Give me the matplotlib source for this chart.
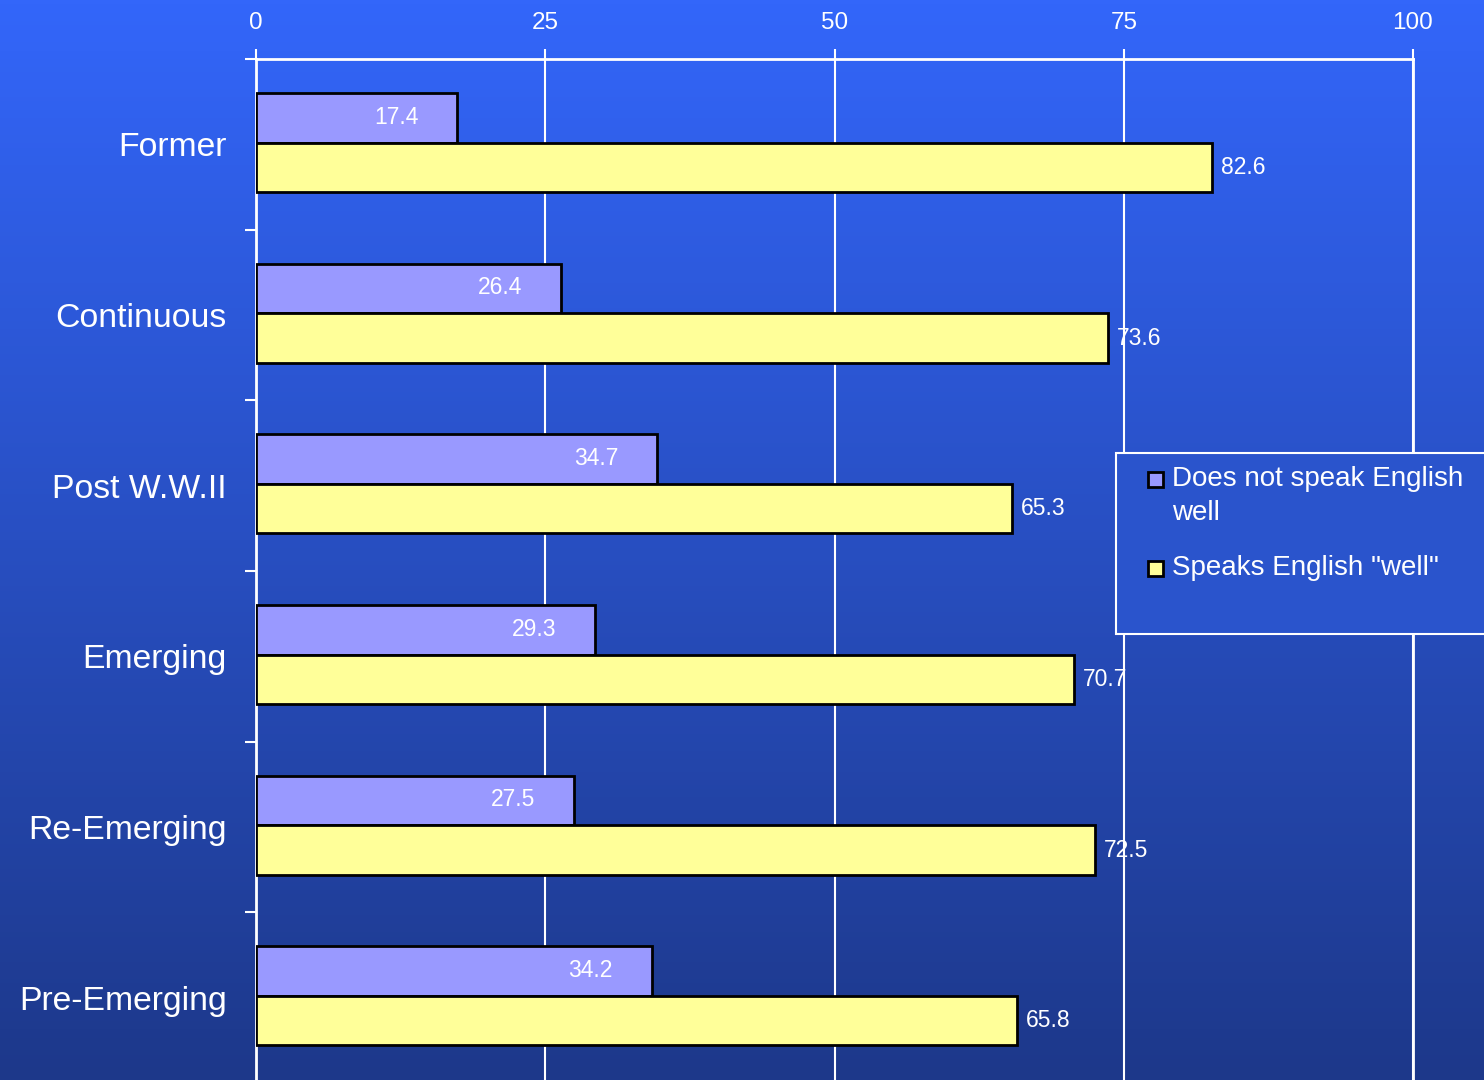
import numpy as np
import matplotlib
matplotlib.use('Agg')
import matplotlib.pyplot as plt
from matplotlib.patches import Rectangle

plt.rcParams['font.family'] = ['Liberation Sans', 'DejaVu Sans']

# data
categories = ['Former', 'Continuous', 'Post W.W.II', 'Emerging', 'Re-Emerging', 'Pre-Emerging']
not_well = [17.4, 26.4, 34.7, 29.3, 27.5, 34.2]
speaks_well = [82.6, 73.6, 65.3, 70.7, 72.5, 65.8]
xticks = [0, 25, 50, 75, 100]
series_names = ['Does not speak English\nwell', 'Speaks English "well"']

purple = '#9999FF'
yellow = '#FFFF99'


def px(x, y):
    # pixel (from top-left) -> figure fraction
    return x / 1484, 1 - y / 1080


def main():
    fig = plt.figure(figsize=(14.84, 10.8), dpi=100)

    # gradient background
    bg = fig.add_axes([0, 0, 1, 1], zorder=-10)
    top = np.array([51, 102, 250]) / 255.0
    bot = np.array([29, 56, 138]) / 255.0
    t = np.linspace(0, 1, 256)[:, None]
    grad = top * (1 - t) + bot * t
    bg.imshow(grad[:, None, :], aspect='auto', extent=[0, 1, 0, 1])
    bg.axis('off')

    ax = fig.add_axes([256 / 1484, -3 / 1080, 1157 / 1484, 1024 / 1080])
    ax.set_facecolor('none')
    y = np.arange(len(categories))
    h = 0.29
    ax.barh(y - h / 2 - 0.01, not_well, height=h, color=purple,
            edgecolor='black', linewidth=2, zorder=3)
    ax.barh(y + h / 2 - 0.01, speaks_well, height=h, color=yellow,
            edgecolor='black', linewidth=2, zorder=3)

    for i in range(len(categories)):
        ax.text(not_well[i] - 5.3, y[i] - h / 2 - 0.015, str(not_well[i]),
                color='white', fontsize=16.5, ha='center', va='center', zorder=4)
        ax.annotate(str(speaks_well[i]), (speaks_well[i], y[i] + h / 2 - 0.01),
                    xytext=(9, 0), textcoords='offset pixels',
                    color='white', fontsize=16.5, ha='left', va='center', zorder=4)

    ax.set_xlim(0, 100)
    ax.set_ylim(len(categories) - 0.5, -0.5)
    ax.xaxis.tick_top()
    ax.set_xticks(xticks)
    ax.set_xticklabels([str(v) for v in xticks])
    ax.tick_params(axis='x', colors='white', labelsize=17.5, length=7, width=1.5,
                   pad=11, labelcolor='white')
    ax.set_yticks(y)
    ax.set_yticklabels(categories)
    ax.set_yticks(np.arange(-0.5, len(categories)), minor=True)
    ax.tick_params(axis='y', which='major', length=0, labelsize=24.3,
                   labelcolor='white', pad=21)
    ax.tick_params(axis='y', which='minor', length=8, width=1.5, color='white')
    ax.grid(axis='x', color='white', linewidth=1.5)
    ax.set_axisbelow(True)
    for s in ['top', 'left', 'right']:
        ax.spines[s].set_color('white')
        ax.spines[s].set_linewidth(2)
    ax.spines['bottom'].set_visible(False)

    # legend (drawn by hand: marker sits on the first text line)
    fig.patches.append(Rectangle(px(1116, 634), 400 / 1484, 181 / 1080,
                                 transform=fig.transFigure, facecolor=(0.165, 0.33, 0.80),
                                 edgecolor='white', linewidth=1.5, zorder=5))
    colors = [purple, yellow]
    rows = [479, 568]
    for name, c, ry in zip(series_names, colors, rows):
        fig.patches.append(Rectangle(px(1148, ry + 8), 15 / 1484, 15 / 1080,
                                     transform=fig.transFigure, facecolor=c,
                                     edgecolor='black', linewidth=2, zorder=6))
        tx, ty = px(1172, ry - 13)
        fig.text(tx, ty, name, color='white', fontsize=20, ha='left', va='top',
                 linespacing=1.4, zorder=7)

    plt.savefig('out.png', dpi=100)


if __name__ == '__main__':
    main()
